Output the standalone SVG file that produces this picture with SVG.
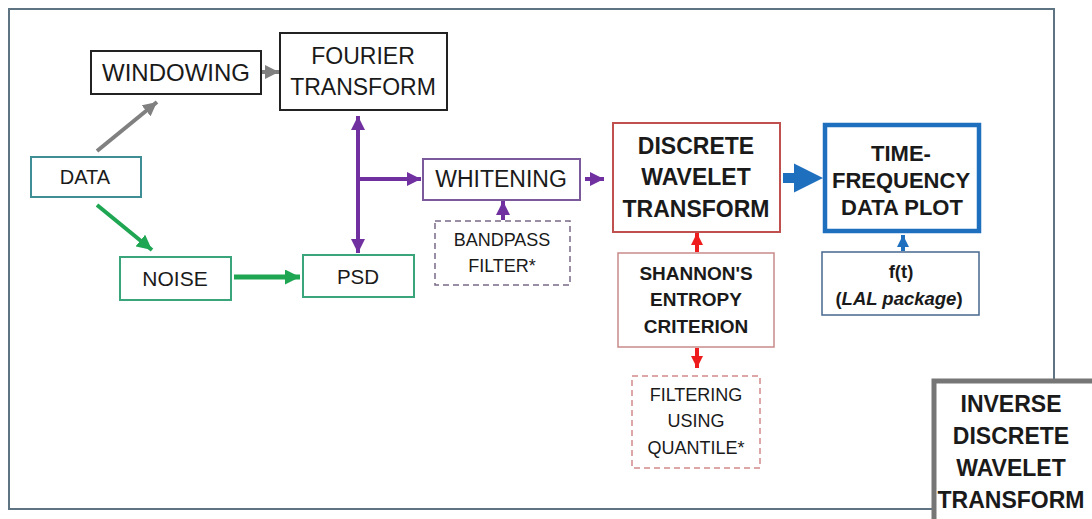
<svg xmlns="http://www.w3.org/2000/svg" width="1092" height="519" viewBox="0 0 1092 519">
<style>
text{font-family:"Liberation Sans",Arial,sans-serif;fill:#1a1a1a;text-anchor:middle}
.b{font-weight:bold}
.box{fill:#fff}
</style>
<defs>
<marker id="mg" viewBox="0 0 10 10" refX="10" refY="5" markerWidth="14" markerHeight="14" markerUnits="userSpaceOnUse" orient="auto"><path d="M0,0L10,5L0,10z" fill="#808080"/></marker>
<marker id="mgr" viewBox="0 0 10 10" refX="10" refY="5" markerWidth="15" markerHeight="15" markerUnits="userSpaceOnUse" orient="auto"><path d="M0,0L10,5L0,10z" fill="#1fa653"/></marker>
<marker id="mp" viewBox="0 0 10 10" refX="10" refY="5" markerWidth="14" markerHeight="14" markerUnits="userSpaceOnUse" orient="auto-start-reverse"><path d="M0,0L10,5L0,10z" fill="#7030a0"/></marker>
<marker id="mr" viewBox="0 0 10 10" refX="10" refY="5" markerWidth="12" markerHeight="12" markerUnits="userSpaceOnUse" orient="auto"><path d="M0,0L10,5L0,10z" fill="#ee1c1c"/></marker>
<marker id="mb" viewBox="0 0 10 10" refX="10" refY="5" markerWidth="12" markerHeight="12" markerUnits="userSpaceOnUse" orient="auto"><path d="M0,0L10,5L0,10z" fill="#1f6fbf"/></marker>
</defs>
<rect x="9" y="9" width="1045" height="500" fill="#fff" stroke="#5f7482" stroke-width="2"/>
<g id="connectors">
<line x1="97" y1="151" x2="157" y2="102" stroke="#808080" stroke-width="4" marker-end="url(#mg)"/>
<line x1="262" y1="72" x2="279" y2="72" stroke="#808080" stroke-width="4" marker-end="url(#mg)"/>
<line x1="97" y1="205" x2="152" y2="250" stroke="#1fa653" stroke-width="4" marker-end="url(#mgr)"/>
<line x1="234" y1="277" x2="300" y2="277" stroke="#1fa653" stroke-width="5" marker-end="url(#mgr)"/>
<line x1="358" y1="116" x2="358" y2="253" stroke="#7030a0" stroke-width="4" marker-start="url(#mp)" marker-end="url(#mp)"/>
<line x1="358" y1="179" x2="421" y2="179" stroke="#7030a0" stroke-width="4" marker-end="url(#mp)"/>
<line x1="585" y1="179" x2="604" y2="179" stroke="#7030a0" stroke-width="4" marker-end="url(#mp)"/>
<line x1="503" y1="220" x2="503" y2="201" stroke="#7030a0" stroke-width="4" marker-end="url(#mp)"/>
<line x1="697" y1="252" x2="697" y2="233" stroke="#ee1c1c" stroke-width="4" marker-end="url(#mr)"/>
<line x1="697" y1="348" x2="697" y2="368" stroke="#ee1c1c" stroke-width="4" marker-end="url(#mr)"/>
<path d="M783,173H794V163.5L823,178L794,192.5V183H783z" fill="#1f6fbf"/>
<line x1="903" y1="251" x2="903" y2="235" stroke="#1f6fbf" stroke-width="4" marker-end="url(#mb)"/>
</g>
<g id="windowing"><rect class="box" x="91" y="51" width="170" height="43" stroke="#222" stroke-width="2"/><text x="176" y="80.5" font-size="24">WINDOWING</text></g>
<g id="fourier"><rect class="box" x="280" y="33" width="167" height="77" stroke="#222" stroke-width="2"/><text x="363" y="64" font-size="23">FOURIER</text><text x="363" y="95" font-size="23">TRANSFORM</text></g>
<g id="data"><rect class="box" x="31" y="157" width="110" height="40" stroke="#3f8e96" stroke-width="2"/><text x="85" y="184" font-size="20">DATA</text></g>
<g id="noise"><rect class="box" x="120" y="257" width="111" height="43" stroke="#3aa57a" stroke-width="2"/><text x="175" y="285.5" font-size="21">NOISE</text></g>
<g id="psd"><rect class="box" x="303" y="255" width="111" height="42" stroke="#3aa57a" stroke-width="2"/><text x="358" y="284" font-size="20.5">PSD</text></g>
<g id="whitening"><rect class="box" x="423" y="159" width="157" height="41" stroke="#7a5a9a" stroke-width="2"/><text x="501" y="187" font-size="23">WHITENING</text></g>
<g id="bandpass"><rect class="box" x="435" y="221" width="135" height="64" stroke="#7a6a86" stroke-width="1.5" stroke-dasharray="6,4"/><text x="502" y="245.5" font-size="18">BANDPASS</text><text x="502" y="272" font-size="18">FILTER*</text></g>
<g id="dwt"><rect class="box" x="613" y="123" width="167" height="109" stroke="#c0504d" stroke-width="2"/><text class="b" x="696" y="154" font-size="23">DISCRETE</text><text class="b" x="696" y="185" font-size="23">WAVELET</text><text class="b" x="696" y="217" font-size="23">TRANSFORM</text></g>
<g id="shannon"><rect class="box" x="618" y="253" width="156" height="94" stroke="#c98a8a" stroke-width="1.5"/><text class="b" x="696" y="279.5" font-size="19">SHANNON'S</text><text class="b" x="696" y="306" font-size="19">ENTROPY</text><text class="b" x="696" y="333" font-size="19">CRITERION</text></g>
<g id="filtering"><rect class="box" x="632" y="376" width="128" height="92" stroke="#d48a8a" stroke-width="1.5" stroke-dasharray="6,4"/><text x="696" y="400.5" font-size="18">FILTERING</text><text x="696" y="426.5" font-size="18">USING</text><text x="696" y="454" font-size="18">QUANTILE*</text></g>
<g id="timefreq"><rect class="box" x="825" y="125" width="154" height="106" stroke="#1f6fbf" stroke-width="4.5"/><text class="b" x="901" y="160.5" font-size="22">TIME-</text><text class="b" x="901" y="188" font-size="22">FREQUENCY</text><text class="b" x="902" y="215" font-size="22">DATA PLOT</text></g>
<g id="ft"><rect class="box" x="822" y="252" width="157" height="63" stroke="#46678f" stroke-width="1.5"/><text class="b" x="901" y="278" font-size="18.5">f(t)</text><text class="b" x="899" y="305" font-size="18.5">(<tspan font-style="italic">LAL package</tspan>)</text></g>
<g id="inverse"><rect x="934" y="381" width="200" height="200" fill="#fff" stroke="#767676" stroke-width="5"/><text class="b" x="1011" y="412" font-size="23">INVERSE</text><text class="b" x="1011" y="444" font-size="23">DISCRETE</text><text class="b" x="1011" y="476" font-size="23">WAVELET</text><text class="b" x="1011" y="508" font-size="23">TRANSFORM</text></g>
</svg>
